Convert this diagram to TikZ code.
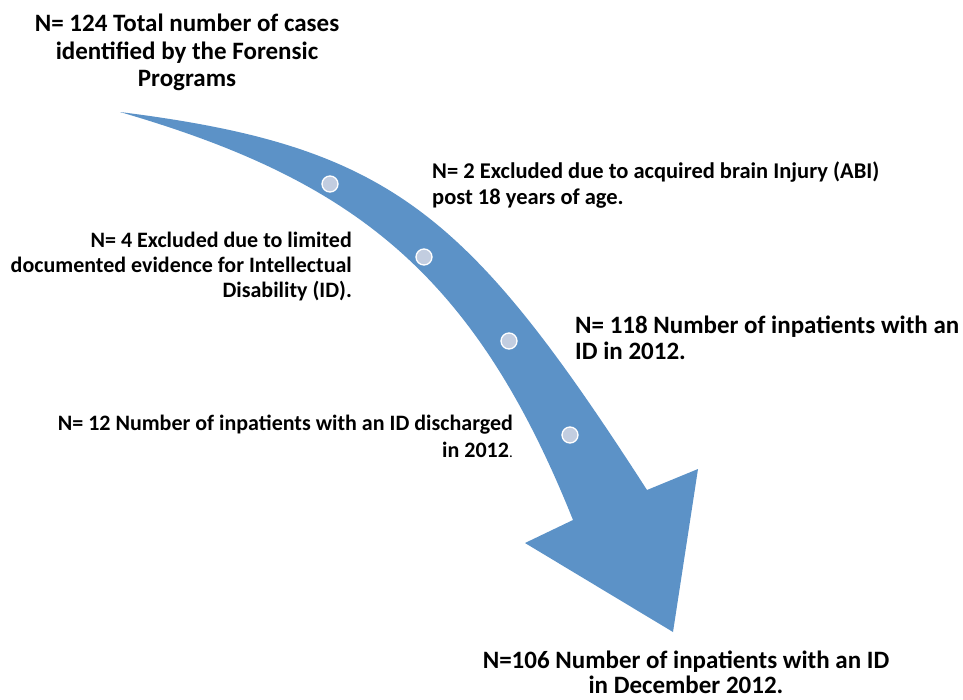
\documentclass[tikz,border=0pt]{standalone}
\usepackage{fontspec}
\setmainfont{Carlito}
\definecolor{arrowblue}{RGB}{92,146,199}
\definecolor{dotfill}{RGB}{194,205,224}
\begin{document}
\begin{tikzpicture}[x=1pt, y=-1pt,
		milestone/.style={circle, fill=dotfill, draw=white, line width=1.3pt, minimum size=16pt, inner sep=0pt},
		bigtxt/.style={font=\fontsize{25}{27.5}\selectfont\bfseries, inner sep=0pt},
		smalltxt/.style={font=\fontsize{22}{25}\selectfont\bfseries, inner sep=0pt}]
		\useasboundingbox (0,0) rectangle (963,699);
		\coordinate (tail) at (120,112);
		\coordinate (RN) at (647,490);
		\coordinate (RC) at (698,469);
		\coordinate (tip) at (673,632);
		\coordinate (LC) at (525,543);
		\coordinate (LN) at (573,520);
		% curved arrow
		\fill[arrowblue] (tail) .. controls (390,146) and (467,211) .. (RN) -- (RC) -- (tip) -- (LC) -- (LN)
			.. controls (473,270) and (350,179) .. cycle;
		% dots on the band
		\node[milestone] (d1) at (330,184) {};
		\node[milestone] (d2) at (424,257) {};
		\node[milestone] (d3) at (509,341) {};
		\node[milestone] (d4) at (570,435) {};
		% labels
		\node[bigtxt, align=center, anchor=north] (total) at (187,14) {N= 124 Total number of cases\\identified by the Forensic\\Programs};
		\node[smalltxt, font=\fontsize{22.5}{26}\selectfont\bfseries, align=left, anchor=north west] (abi) at (432,162) {N= 2 Excluded due to acquired brain Injury (ABI)\\post 18 years of age.};
		\node[smalltxt, align=right, anchor=north east] (limited) at (352,232) {N= 4 Excluded due to limited\\documented evidence for Intellectual\\Disability (ID).};
		\node[bigtxt, font=\fontsize{25}{26}\selectfont\bfseries, align=left, anchor=north west] (inpat) at (575,316) {N= 118 Number of inpatients with an\\ID in 2012.};
		\node[smalltxt, font=\fontsize{22}{27}\selectfont\bfseries, align=right, anchor=north east] (discharged) at (513,415) {N= 12 Number of inpatients with an ID discharged\\in 2012{\mdseries\fontsize{15}{15}\selectfont.}};
		\node[bigtxt, font=\fontsize{25}{25}\selectfont\bfseries, align=center, anchor=north] (december) at (686,651) {N=106 Number of inpatients with an ID\\in December 2012.};
	\end{tikzpicture}
\end{document}
